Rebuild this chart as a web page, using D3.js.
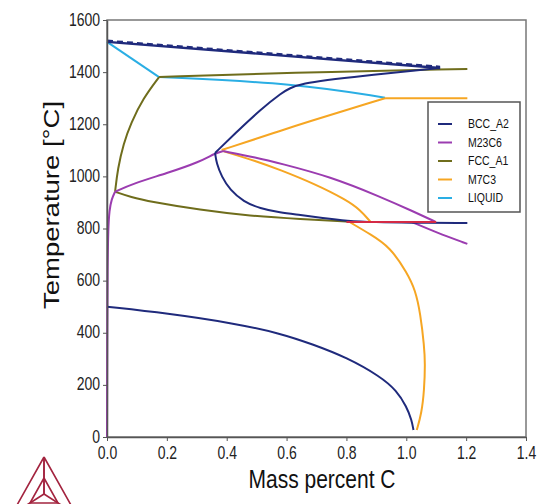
<!DOCTYPE html>
<html>
<head>
<meta charset="utf-8">
<script src="https://cdn.jsdelivr.net/npm/d3@7"></script>
<style>
  body { margin: 0; background: #fff; }
  text { font-family: "Liberation Sans", Arial, sans-serif; }
</style>
</head>
<body>
<script>
// phase names for the legend
const phases = ["BCC_A2", "M23C6", "FCC_A1", "M7C3", "LIQUID"];

// phase boundaries, [mass % C, T in °C]
const bccTop = [[0, 1516], [1.113, 1416]];
const bccUpper = [[0.361, 1090], [0.44, 1178], [0.512, 1255], [0.58, 1318], [0.635, 1358], [0.856, 1386], [1.113, 1416]];
const bccLower = [[0.361, 1090], [0.366, 1050], [0.383, 999], [0.411, 948], [0.456, 903], [0.511, 877], [0.578, 861], [0.645, 852], [0.72, 840], [0.8, 829], [0.9, 824], [1.0, 822], [1.204, 821]];
const bccLow = [[0, 500], [0.2, 475], [0.422, 437], [0.578, 398], [0.689, 355], [0.801, 305], [0.912, 233], [0.968, 178], [1.001, 116], [1.018, 65], [1.024, 27]];

const m23Vert = [[0, 0], [0.001, 400], [0.002, 650], [0.004, 800], [0.008, 870], [0.015, 912], [0.027, 941]];
const m23Left = [[0.027, 941], [0.088, 973], [0.2, 1012], [0.311, 1056], [0.361, 1089], [0.388, 1097]];
const m23Right = [[0.388, 1097], [0.5, 1072], [0.578, 1050], [0.746, 999], [0.913, 922], [1.024, 865], [1.097, 826]];
const m23Tail = [[1.02, 824], [1.1, 785], [1.204, 741]];

const fccLeft = [[0.027, 941], [0.036, 1030], [0.055, 1125], [0.08, 1205], [0.121, 1300], [0.174, 1381]];
const fccTop = [[0.174, 1381], [0.6, 1398], [1.204, 1412]];
const fccLow = [[0.027, 941], [0.08, 920], [0.144, 903], [0.311, 871], [0.478, 848], [0.645, 836], [0.813, 826]];

const m7Upper = [[0.383, 1101], [0.578, 1174], [0.645, 1200], [0.929, 1300]];
const m7Top = [[0.929, 1300], [1.204, 1300]];
const m7Mid = [[0.388, 1097], [0.5, 1058], [0.578, 1025], [0.69, 973], [0.801, 909], [0.846, 871], [0.88, 826]];
const m7Low = [[0.813, 823], [0.88, 778], [0.946, 729], [1.003, 629], [1.03, 564], [1.047, 475], [1.06, 347], [1.063, 283], [1.06, 180], [1.051, 91], [1.035, 27]];

const liqLeft = [[0, 1516], [0.174, 1381]];
const liqRight = [[0.174, 1381], [0.634, 1357], [0.929, 1302]];

const tieLine = [[0.8, 825], [1.1, 825]];

const xTicks = [0, 0.2, 0.4, 0.6, 0.8, 1.0, 1.2, 1.4];
const yTicks = [0, 200, 400, 600, 800, 1000, 1200, 1400, 1600];

const colors = {
  BCC_A2: "#1f2a7c", M23C6: "#9b3cb0", FCC_A1: "#6f6d1c",
  M7C3: "#f6a623", LIQUID: "#2aaee4", tie: "#d42a45"
};

const W = 539, H = 504;
const stretch = 1.25; // the picture is a bit taller than it is wide

const svg = d3.select("body").append("svg")
  .attr("width", W).attr("height", H);

const x = d3.scaleLinear().domain([0, 1.4]).range([107, 526]);
const y = d3.scaleLinear().domain([0, 1600]).range([437, 20]);

const line = d3.line()
  .x(d => x(d[0]))
  .y(d => y(d[1]))
  .curve(d3.curveBasis);

// frame
svg.append("rect")
  .attr("x", x(0)).attr("y", y(1600))
  .attr("width", x(1.4) - x(0)).attr("height", y(0) - y(1600))
  .attr("fill", "none").attr("stroke", "#777").attr("stroke-width", 1.5);

// curves
const curves = [
  [liqLeft, "LIQUID"], [liqRight, "LIQUID"],
  [fccLeft, "FCC_A1"], [fccTop, "FCC_A1"], [fccLow, "FCC_A1"],
  [m7Upper, "M7C3"], [m7Top, "M7C3"], [m7Mid, "M7C3"], [m7Low, "M7C3"],
  [m23Vert, "M23C6"], [m23Left, "M23C6"], [m23Right, "M23C6"], [m23Tail, "M23C6"],
  [bccUpper, "BCC_A2"], [bccLower, "BCC_A2"], [bccLow, "BCC_A2"],
  [tieLine, "tie"]
];

svg.append("g").selectAll("path")
  .data(curves)
  .join("path")
  .attr("d", d => line(d[0]))
  .attr("fill", "none")
  .attr("stroke", d => colors[d[1]])
  .attr("stroke-width", 2);

// the top line looks doubled / dashed
svg.append("path")
  .attr("d", line(bccTop))
  .attr("fill", "none")
  .attr("stroke", colors.BCC_A2)
  .attr("stroke-width", 2.4);
svg.append("path")
  .attr("d", line(bccTop))
  .attr("transform", "translate(0,-1.3)")
  .attr("fill", "none")
  .attr("stroke", colors.BCC_A2)
  .attr("stroke-width", 2)
  .attr("stroke-dasharray", "6,4");

// axes
const xAxis = svg.append("g")
  .attr("transform", `translate(0,${y(0)})`)
  .call(d3.axisBottom(x).tickValues(xTicks).tickFormat(d3.format(".1f")).tickSize(4).tickSizeOuter(0));
const yAxis = svg.append("g")
  .attr("transform", `translate(${x(0)},0)`)
  .call(d3.axisLeft(y).tickValues(yTicks).tickFormat(d3.format("d")).tickSize(4).tickSizeOuter(0));

[xAxis, yAxis].forEach(g => {
  g.select(".domain").attr("stroke", "#555").attr("stroke-width", 1.5);
  g.selectAll(".tick line").attr("stroke", "#555");
  g.selectAll(".tick text")
    .attr("font-size", 14)
    .attr("fill", "#222")
    .attr("font-family", "Liberation Sans, Arial, sans-serif");
});
xAxis.selectAll(".tick text")
  .attr("dy", null).attr("y", 0)
  .attr("transform", `translate(0,22) scale(1,${stretch})`);
yAxis.selectAll(".tick text")
  .attr("dy", null).attr("x", 0)
  .attr("dominant-baseline", "central")
  .attr("transform", `translate(-7,-1) scale(1,${stretch})`);

// axis titles
svg.append("text")
  .attr("transform", `translate(322,488) scale(1,${stretch})`)
  .attr("text-anchor", "middle")
  .attr("font-size", 21)
  .attr("fill", "#111")
  .text("Mass percent C");

svg.append("text")
  .attr("transform", `translate(59,205) scale(1,${stretch}) rotate(-90)`)
  .attr("text-anchor", "middle")
  .attr("font-size", 22)
  .attr("fill", "#111")
  .text("Temperature [°C]");

// legend
const legend = svg.append("g");
legend.append("rect")
  .attr("x", 428).attr("y", 102).attr("width", 92).attr("height", 110)
  .attr("fill", "#fff").attr("stroke", "#555").attr("stroke-width", 1.5);

const rows = legend.selectAll("g.row")
  .data(phases)
  .join("g")
  .attr("class", "row")
  .attr("transform", (d, i) => `translate(0,${124 + i * 18.5})`);
rows.append("line")
  .attr("x1", 438).attr("x2", 452)
  .attr("stroke", d => colors[d]).attr("stroke-width", 2);
rows.append("text")
  .attr("transform", `translate(468,0) scale(1,${stretch})`)
  .attr("dominant-baseline", "central")
  .attr("font-size", 10.5)
  .attr("fill", "#111")
  .text(d => d);

// logo, a triangle with a tetrahedron drawn inside
const logo = svg.append("g")
  .attr("fill", "none").attr("stroke", "#a3243f").attr("stroke-width", 1.6);
const apex = [44, 457], bl = [12, 514], br = [76, 514];
const iApex = [44, 478], iBl = [30, 503], iBr = [58, 503], ctr = [44, 494];
logo.append("path").attr("d", d3.line()([apex, bl, br, apex]));
logo.append("path").attr("d", d3.line()([iApex, iBl, iBr, iApex]));
[[apex, iApex], [bl, iBl], [br, iBr], [iApex, ctr], [iBl, ctr], [iBr, ctr], [apex, ctr]].forEach(s => {
  logo.append("path").attr("d", d3.line()(s));
});
</script>
</body>
</html>
